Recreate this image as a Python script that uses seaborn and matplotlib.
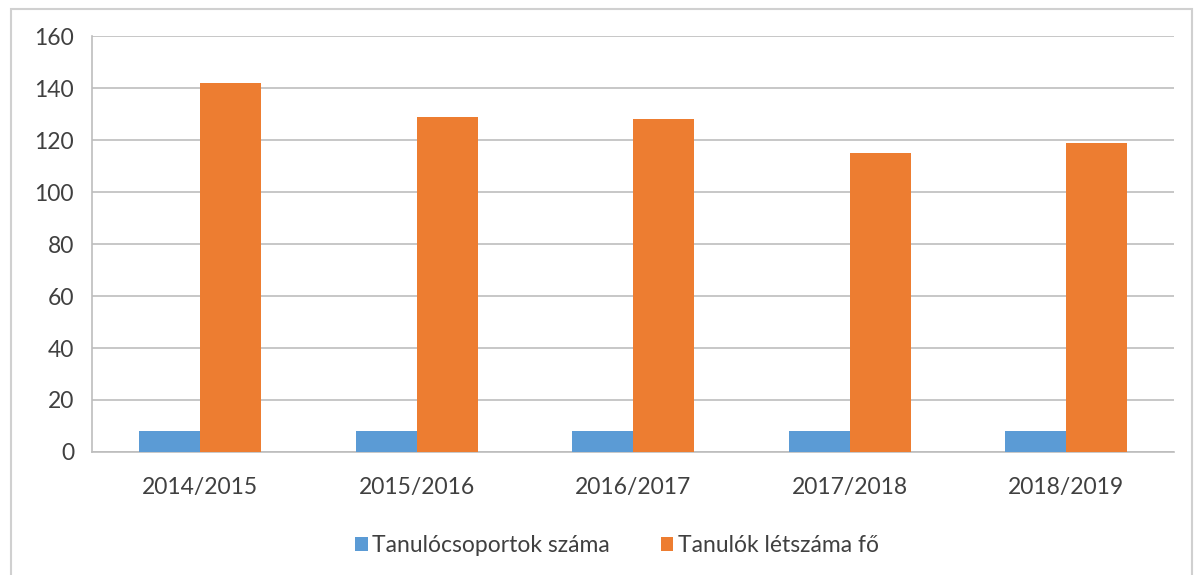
import pandas as pd
import seaborn as sns
import matplotlib.pyplot as plt
from matplotlib.patches import Rectangle

years = ["2014/2015", "2015/2016", "2016/2017", "2017/2018", "2018/2019"]
groups = [8, 8, 8, 8, 8]
students = [142, 129, 128, 115, 119]
series_names = ["Tanulócsoportok száma", "Tanulók létszáma fő"]

df = pd.DataFrame({
    "year": years * 2,
    "value": groups + students,
    "series": [series_names[0]] * len(years) + [series_names[1]] * len(years),
})

sns.set_style("white")
plt.rcParams["font.family"] = ["Lato", "DejaVu Sans"]

fig = plt.figure(figsize=(11.96, 5.75), dpi=100)
ax = fig.add_axes([0.077, 0.214, 0.905, 0.723])

sns.barplot(data=df, x="year", y="value", hue="series",
            palette=["#5B9BD5", "#ED7D31"], width=0.565, saturation=1,
            linewidth=0, ax=ax, zorder=3)

ax.set_ylim(0, 160)
ax.set_yticks(range(0, 161, 20))
ax.set_xlim(-0.5, len(years) - 0.5)
ax.yaxis.grid(True, color="#BDBDBD", linewidth=1.2, zorder=0)
ax.set_axisbelow(True)
ax.set_xlabel("")
ax.set_ylabel("")
for s in ["top", "right"]:
    ax.spines[s].set_visible(False)
ax.spines["left"].set_color("#BDBDBD")
ax.spines["bottom"].set_color("#BDBDBD")
ax.spines["left"].set_linewidth(1.2)
ax.spines["bottom"].set_linewidth(1.2)

ax.tick_params(axis="y", length=7, color="#BDBDBD", labelsize=16.5,
               labelcolor="#404040", pad=6)
ax.tick_params(axis="x", length=0, labelsize=16.5, labelcolor="#404040", pad=18)
ax.set_xticks(range(len(years)), years)
ax.set_xticks([i + 0.5 for i in range(len(years) - 1)], minor=True)
ax.tick_params(axis="x", which="minor", length=6, color="#BDBDBD", width=1.2)

ax.legend(loc="upper center", bbox_to_anchor=(0.485, -0.15), ncol=2,
          frameon=False, fontsize=16.5, handlelength=0.55, handleheight=0.55,
          handletextpad=0.2, columnspacing=2.2, labelcolor="#404040")

fig.patches.append(Rectangle((0.009, -0.1), 0.988, 1.085, transform=fig.transFigure,
                             fill=False, edgecolor="#D0D0D0", linewidth=1.5))

plt.savefig("out.png", dpi=100)
